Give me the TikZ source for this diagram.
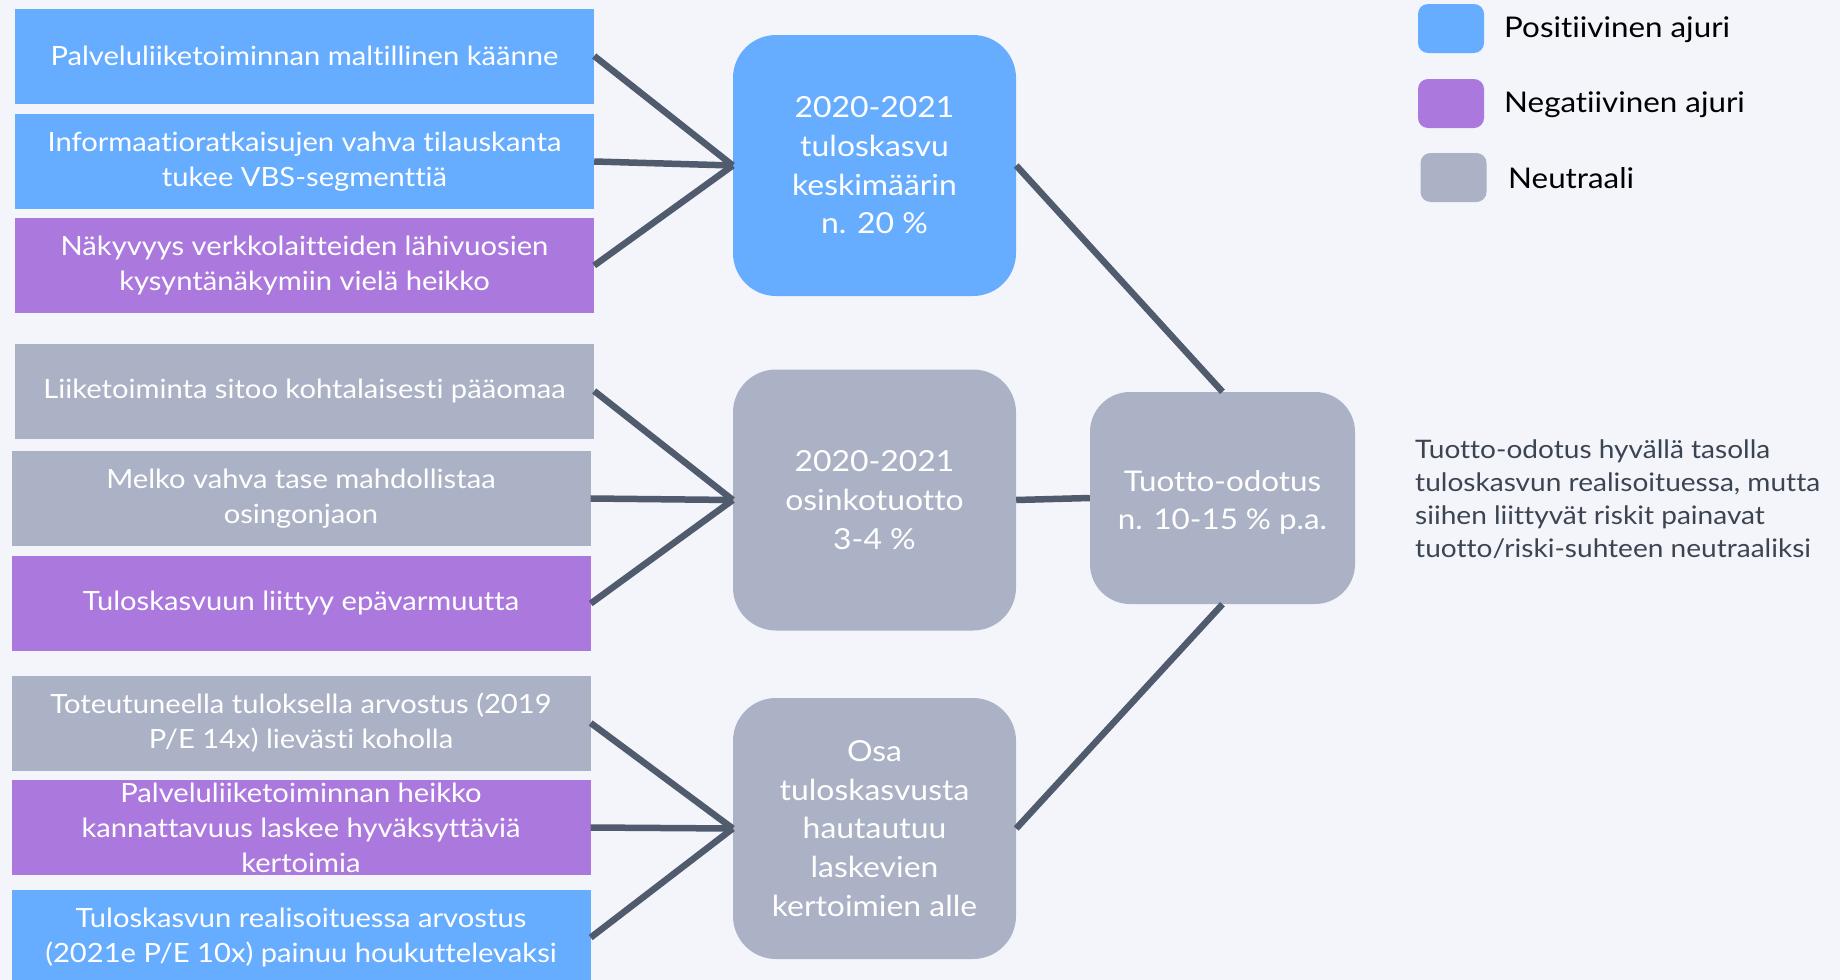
\documentclass[tikz,border=0pt]{standalone}
\usepackage{fontspec}
\setmainfont{Lato}[FakeStretch=1.1, Ligatures={NoCommon}]
\definecolor{bgc}{HTML}{F3F5FA}
\definecolor{posc}{HTML}{66ADFF}
\definecolor{negc}{HTML}{AB79DE}
\definecolor{neuc}{HTML}{ABB2C5}
\definecolor{linec}{HTML}{505B6E}
\definecolor{descc}{HTML}{3C4452}
\begin{document}
\begin{tikzpicture}[x=1pt,y=-1pt,
  drv/.style={rectangle, minimum width=579pt, minimum height=95pt, text=white, align=center, inner sep=0pt, font=\fontsize{26.5}{35}\selectfont},
  ctr/.style={rectangle, rounded corners=43pt, minimum width=283pt, minimum height=261pt, text=white, align=center, inner sep=0pt, font=\fontsize{29}{38.7}\selectfont},
  tot/.style={rectangle, rounded corners=40pt, minimum width=265pt, minimum height=212pt, inner sep=0pt},
  totlab/.style={text=white, align=center, inner sep=0pt, yshift=-4pt, font=\fontsize{28.5}{38}\selectfont},
  legsq/.style={rectangle, rounded corners=10pt, minimum width=66pt, minimum height=49pt, inner sep=0pt},
  legtx/.style={anchor=west, inner sep=0pt, text=black, font=\fontsize{28.5}{32}\selectfont},
  link/.style={draw=linec, line width=6.5pt}
]
\fill[bgc] (0,0) rectangle (1840,980);
\useasboundingbox (0,0) rectangle (1840,980);

% left driver boxes
\node[drv, fill=posc] (d1) at (304.5,56) {Palveluliiketoiminnan maltillinen käänne};
\node[drv, fill=posc] (d2) at (304.5,161.5) {Informaatioratkaisujen vahva tilauskanta\\tukee VBS-segmenttiä};
\node[drv, fill=negc] (d3) at (304.5,265.5) {Näkyvyys verkkolaitteiden lähivuosien\\kysyntänäkymiin vielä heikko};
\node[drv, fill=neuc] (d4) at (304.5,391) {Liiketoiminta sitoo kohtalaisesti pääomaa};
\node[drv, fill=neuc] (d5) at (301,498.5) {Melko vahva tase mahdollistaa\\osingonjaon};
\node[drv, fill=negc] (d6) at (301,603.5) {Tuloskasvuun liittyy epävarmuutta};
\node[drv, fill=neuc] (d7) at (301,723) {Toteutuneella tuloksella arvostus (2019\\P/E 14x) lievästi koholla};
\node[drv, fill=negc] (d8) at (301,827.5) {Palveluliiketoiminnan heikko\\kannattavuus laskee hyväksyttäviä\\kertoimia};
\node[drv, fill=posc] (d9) at (301,937.5) {Tuloskasvun realisoituessa arvostus\\(2021e P/E 10x) painuu houkuttelevaksi};

% centre boxes
\node[ctr, fill=posc] (c1) at (874.5,165.5) {2020-2021\\tuloskasvu\\keskimäärin\\n. 20 \%};
\node[ctr, fill=neuc] (c2) at (874.5,500) {2020-2021\\osinkotuotto\\3-4 \%};
\node[ctr, fill=neuc] (c3) at (874.5,828.5) {Osa\\tuloskasvusta\\hautautuu\\laskevien\\kertoimien alle};

% result box
\node[tot, fill=neuc, label={[totlab]center:Tuotto-odotus\\n. 10-15 \% p.a.}] (t) at (1222.5,498) {};

% connectors
\draw[link] (d1.east) -- (c1.west);
\draw[link] (d2.east) -- (c1.west);
\draw[link] (d3.east) -- (c1.west);
\draw[link] (d4.east) -- (c2.west);
\draw[link] (d5.east) -- (c2.west);
\draw[link] (d6.east) -- (c2.west);
\draw[link] (d7.east) -- (c3.west);
\draw[link] (d8.east) -- (c3.west);
\draw[link] (d9.east) -- (c3.west);
\draw[link] (c1.east) -- (t.north);
\draw[link] (c2.east) -- (t.west);
\draw[link] (c3.east) -- (t.south);

% legend
\node[legsq, fill=posc] (l1) at (1451,28.5) {};
\node[legsq, fill=negc] (l2) at (1451,103.5) {};
\node[legsq, fill=neuc] (l3) at (1453.5,177.5) {};
\node[legtx] (l1t) at (1504,30) {Positiivinen ajuri};
\node[legtx] (l2t) at (1504,105) {Negatiivinen ajuri};
\node[legtx] (l3t) at (1508,178) {Neutraali};

% description
\node[anchor=west, align=left, inner sep=0pt, text=descc, font=\fontsize{25.5}{33}\selectfont] (desc) at (1415,499) {Tuotto-odotus hyvällä tasolla\\tuloskasvun realisoituessa, mutta\\siihen liittyvät riskit painavat\\tuotto/riski-suhteen neutraaliksi};
\end{tikzpicture}
\end{document}
